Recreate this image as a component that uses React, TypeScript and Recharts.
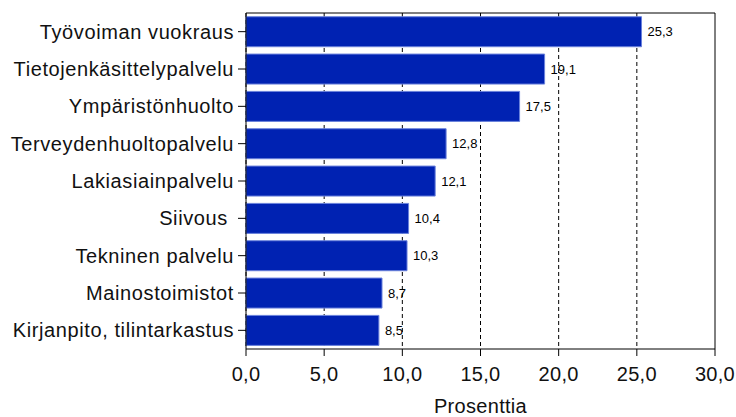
import React from 'react';
import { BarChart, Bar, XAxis, YAxis, CartesianGrid, LabelList, Label } from 'recharts';

const categories = [
  'Työvoiman vuokraus',
  'Tietojenkäsittelypalvelu',
  'Ympäristönhuolto',
  'Terveydenhuoltopalvelu',
  'Lakiasiainpalvelu',
  'Siivous\u00a0',
  'Tekninen palvelu',
  'Mainostoimistot',
  'Kirjanpito, tilintarkastus',
];
const values = [25.3, 19.1, 17.5, 12.8, 12.1, 10.4, 10.3, 8.7, 8.5];
const xTicks = [0, 5, 10, 15, 20, 25, 30];
const axisTitle = 'Prosenttia';

const data = categories.map((name, i) => ({ name, value: values[i] }));

const fi = (v: number) => v.toFixed(1).replace('.', ',');
const font = '"Liberation Sans", Arial, sans-serif';

// grid: dashed inner verticals, solid outer frame (right edge + top edge)
const vLine = (p: any) => (
  <line
    key={p.key}
    x1={p.x1}
    y1={p.y1}
    x2={p.x2}
    y2={p.y2}
    stroke="#000"
    strokeWidth={1}
    strokeDasharray={p.index === xTicks.length - 1 ? undefined : '4 3'}
  />
);
const hLine = (p: any) => (
  <line key={p.key} x1={p.x1} y1={p.y1} x2={p.x2} y2={p.y2} stroke="#000" strokeWidth={1} />
);

export default function App() {
  return (
    <div style={{ width: 736, height: 417 }}>
      <style>{'body{margin:0}'}</style>
      <BarChart
        width={736}
        height={417}
        data={data}
        layout="vertical"
        margin={{ top: 13, right: 21, left: 0, bottom: 0 }}
        barCategoryGap="10%"
        style={{ fontFamily: font }}
      >
        <CartesianGrid
          vertical={vLine as any}
          horizontal={hLine as any}
          horizontalCoordinatesGenerator={(p: any) => [p?.offset?.top ?? 13]}
        />
        <XAxis
          type="number"
          domain={[0, 30]}
          ticks={xTicks}
          tickFormatter={fi}
          height={68}
          tickSize={7}
          tickMargin={11}
          axisLine={{ stroke: '#000' }}
          tickLine={{ stroke: '#000' }}
          tick={{ fill: '#111', fontSize: 20, letterSpacing: 0.3 }}
        >
          <Label value={axisTitle} position="insideBottom" offset={4} fill="#111" fontSize={20} letterSpacing={0.3} />
        </XAxis>
        <YAxis
          type="category"
          dataKey="name"
          width={246}
          tickSize={8}
          tickMargin={4}
          axisLine={{ stroke: '#000' }}
          tickLine={{ stroke: '#000' }}
          tick={{ fill: '#111', fontSize: 20, letterSpacing: 0.6 }}
          interval={0}
        />
        <Bar dataKey="value" fill="#0022b2" stroke="#6a82dc" strokeWidth={1} isAnimationActive={false}>
          <LabelList
            dataKey="value"
            position="right"
            offset={6}
            formatter={(v: any) => fi(Number(v))}
            fill="#000"
            fontSize={13}
          />
        </Bar>
      </BarChart>
    </div>
  );
}
